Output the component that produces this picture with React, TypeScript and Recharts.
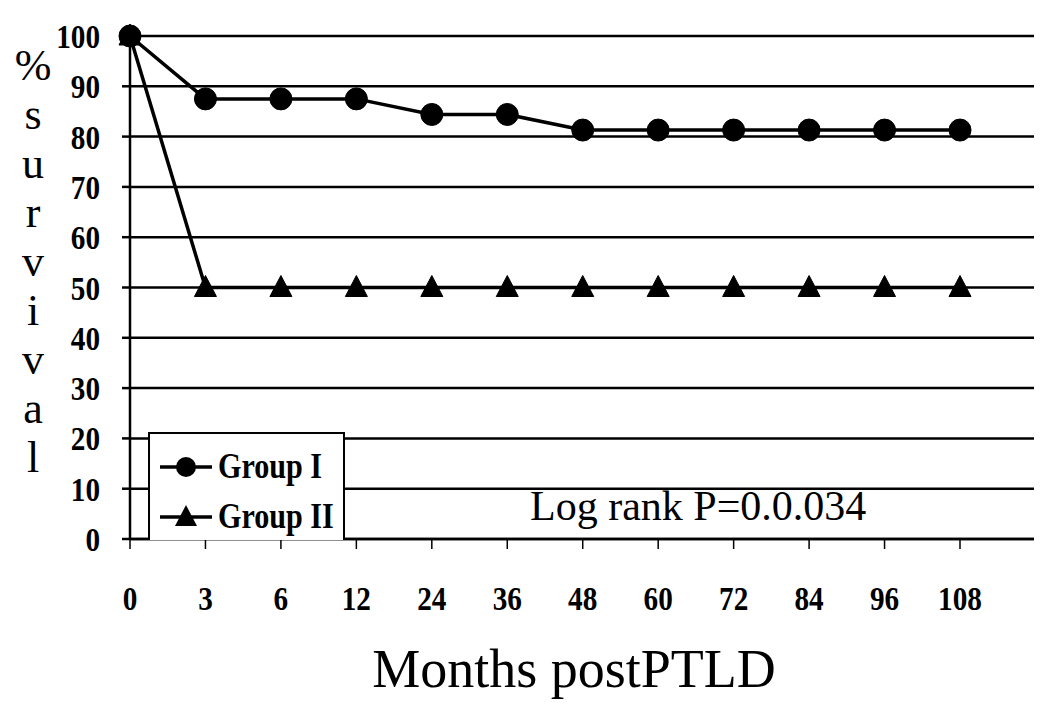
import React from "react";
import { LineChart, Line, XAxis, YAxis, CartesianGrid, Legend } from "recharts";

const months = ["0", "3", "6", "12", "24", "36", "48", "60", "72", "84", "96", "108"];
const groupI = [100, 87.5, 87.5, 87.5, 84.4, 84.4, 81.3, 81.3, 81.3, 81.3, 81.3, 81.3];
const groupII = [100, 50, 50, 50, 50, 50, 50, 50, 50, 50, 50, 50];
const yTicks = [0, 10, 20, 30, 40, 50, 60, 70, 80, 90, 100];
const seriesNames = ["Group I", "Group II"];
const yLabel = "%survival";
const xLabel = "Months postPTLD";
const note = "Log rank P=0.0.034";

const data = months.map((m, i) => ({ month: m, g1: groupI[i], g2: groupII[i] }));

const FONT = "'Liberation Serif', 'Times New Roman', serif";

const XTick = (props: any) => {
  const { x, y, payload } = props;
  return (
    <g transform={`translate(${x},${y})`}>
      <text
        transform="scale(0.86,1)"
        textAnchor="middle"
        dy="0.71em"
        fill="#000"
        fontFamily={FONT}
        fontWeight="bold"
        fontSize={34}
      >
        {payload.value}
      </text>
    </g>
  );
};

const YTick = (props: any) => {
  const { x, y, payload } = props;
  return (
    <g transform={`translate(${x},${y})`}>
      <text
        transform="scale(0.86,1)"
        textAnchor="end"
        dy="0.355em"
        fill="#000"
        fontFamily={FONT}
        fontWeight="bold"
        fontSize={34}
      >
        {payload.value}
      </text>
    </g>
  );
};

const Triangle = (props: any) => {
  const { cx, cy, index } = props;
  if (cx == null || cy == null) return <g key={`t-${index}`} />;
  return (
    <polygon
      key={`t-${index}`}
      points={`${cx},${cy - 12} ${cx - 11},${cy + 9} ${cx + 11},${cy + 9}`}
      fill="#000"
      stroke="#000"
      strokeWidth={1}
    />
  );
};

const LegendContent = () => (
  <div
    style={{
      width: "100%",
      height: "100%",
      boxSizing: "border-box",
      border: "2.5px solid #000",
      borderBottom: "none",
      background: "#fff",
      fontFamily: FONT,
      fontWeight: "bold",
      fontSize: 35,
      color: "#000",
    }}
  >
    {seriesNames.map((name, i) => (
      <div
        key={name}
        style={{ display: "flex", alignItems: "center", height: 50, marginTop: i === 0 ? 8 : 0, paddingLeft: 8 }}
      >
        <svg width={56} height={30} style={{ marginRight: 4, flexShrink: 0 }}>
          <line x1={2} y1={15} x2={54} y2={15} stroke="#000" strokeWidth={3.5} />
          {i === 0 ? (
            <circle cx={28} cy={15} r={10} fill="#000" />
          ) : (
            <polygon points="28,3 17,24 39,24" fill="#000" />
          )}
        </svg>
        <span
          style={{
            lineHeight: "34px",
            display: "inline-block",
            transform: "scaleX(0.86)",
            transformOrigin: "left center",
            whiteSpace: "nowrap",
          }}
        >
          {name}
        </span>
      </div>
    ))}
  </div>
);

export default function App() {
  return (
    <div style={{ position: "absolute", left: 0, top: 0, width: 1050, height: 711, background: "#fff" }}>
      <LineChart
        width={1050}
        height={711}
        data={data}
        margin={{ top: 36, right: 16, bottom: 112, left: 0 }}
      >
        <CartesianGrid vertical={false} stroke="#000" strokeWidth={2.5} />
        <XAxis
          dataKey="month"
          padding={{ left: 0, right: 74 }}
          height={60}
          tickSize={10}
          tickMargin={37}
          axisLine={{ stroke: "#000", strokeWidth: 2.5 }}
          tickLine={{ stroke: "#000", strokeWidth: 1.5 }}
          tick={<XTick />}
          interval={0}
        />
        <YAxis
          domain={[0, 100]}
          ticks={yTicks}
          width={130}
          tickSize={8}
          tickMargin={22}
          axisLine={{ stroke: "#000", strokeWidth: 2.5 }}
          tickLine={{ stroke: "#000", strokeWidth: 2.5 }}
          tick={<YTick />}
          interval={0}
        />
        <Legend
          layout="vertical"
          align="center"
          verticalAlign="middle"
          content={<LegendContent />}
          wrapperStyle={{ left: 148, top: 432, width: 197, height: 108 }}
        />
        <Line
          type="linear"
          dataKey="g2"
          name={seriesNames[1]}
          stroke="#000"
          strokeWidth={3.5}
          dot={<Triangle />}
          isAnimationActive={false}
        />
        <Line
          type="linear"
          dataKey="g1"
          name={seriesNames[0]}
          stroke="#000"
          strokeWidth={3.5}
          dot={{ r: 11, fill: "#000", stroke: "#000", strokeWidth: 1 }}
          isAnimationActive={false}
        />
      </LineChart>
      <div
        style={{
          position: "absolute",
          left: 3,
          top: 41,
          width: 60,
          textAlign: "center",
          fontFamily: FONT,
          fontSize: 44,
          lineHeight: "49px",
          color: "#000",
        }}
      >
        {yLabel.split("").map((c, i) => (
          <React.Fragment key={i}>
            {i > 0 ? <br /> : null}
            {c}
          </React.Fragment>
        ))}
      </div>
      <div
        style={{
          position: "absolute",
          left: 274,
          top: 642,
          width: 600,
          textAlign: "center",
          fontFamily: FONT,
          fontSize: 54,
          lineHeight: "54px",
          color: "#000",
          whiteSpace: "nowrap",
        }}
      >
        {xLabel}
      </div>
      <div
        style={{
          position: "absolute",
          left: 530,
          top: 485,
          fontFamily: FONT,
          fontSize: 42,
          lineHeight: "42px",
          color: "#000",
          whiteSpace: "nowrap",
        }}
      >
        {note}
      </div>
    </div>
  );
}
